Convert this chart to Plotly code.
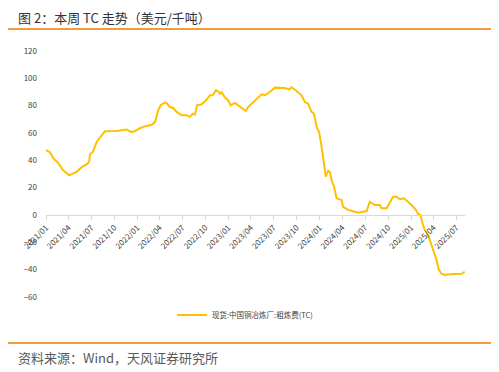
import plotly.graph_objects as go

dates = [
    "2021-01-01", "2021-01-17", "2021-01-30", "2021-02-19", "2021-03-09", "2021-04-04",
    "2021-04-20", "2021-05-04", "2021-05-24", "2021-06-13", "2021-06-23", "2021-06-26",
    "2021-07-07", "2021-07-23", "2021-08-05", "2021-08-25", "2021-10-11", "2021-11-20",
    "2021-12-06", "2021-12-23", "2022-01-12", "2022-01-25", "2022-02-28", "2022-03-13",
    "2022-03-26", "2022-04-05", "2022-04-22", "2022-05-01", "2022-05-12", "2022-05-25",
    "2022-06-08", "2022-06-28", "2022-07-18", "2022-07-31", "2022-08-11", "2022-08-20",
    "2022-08-29", "2022-09-16", "2022-10-06", "2022-10-19", "2022-10-30", "2022-11-12",
    "2022-11-21", "2022-11-28", "2022-12-05", "2022-12-18", "2022-12-31", "2023-01-10",
    "2023-01-27", "2023-02-16", "2023-03-01", "2023-03-12", "2023-03-21", "2023-04-04",
    "2023-04-24", "2023-05-14", "2023-05-27", "2023-06-16", "2023-07-06", "2023-07-26",
    "2023-08-15", "2023-09-01", "2023-09-11", "2023-10-01", "2023-10-21", "2023-11-03",
    "2023-11-16", "2023-11-30", "2023-12-09", "2023-12-22", "2023-12-30", "2024-01-09",
    "2024-01-18", "2024-01-26", "2024-02-04", "2024-02-11", "2024-02-20", "2024-02-28",
    "2024-03-09", "2024-03-19", "2024-03-29", "2024-04-04", "2024-04-24", "2024-05-21",
    "2024-06-03", "2024-07-07", "2024-07-20", "2024-08-09", "2024-08-29", "2024-09-05",
    "2024-09-25", "2024-10-05", "2024-10-21", "2024-11-04", "2024-11-17", "2024-12-03",
    "2024-12-20", "2025-01-09", "2025-01-23", "2025-01-29", "2025-02-08", "2025-02-16",
    "2025-02-25", "2025-03-10", "2025-03-24", "2025-04-02", "2025-04-13", "2025-04-22",
    "2025-05-03", "2025-05-16", "2025-06-05", "2025-07-02", "2025-07-22", "2025-08-04",
]
tc_values = [
    47.5, 46, 41.6, 38, 33, 29,
    30.4, 31.6, 35, 37, 39, 44.5,
    46, 53.5, 56.7, 61.3, 61.5, 62.6,
    60.8, 61.3, 63.5, 64.5, 66, 68,
    76.7, 80.3, 82.3, 81.5, 79, 78.3,
    75.4, 73, 73, 71.8, 74, 73.5,
    80.3, 81, 84.5, 87.6, 87.6, 91.2,
    90.5, 88.8, 90, 86, 84, 80.3,
    82, 79, 77, 76, 79, 81.5,
    85, 88.3, 87.6, 90, 93.2, 93.2,
    93, 91.8, 93.5, 90.7, 87.6, 82.7,
    81.5, 75.4, 74.2, 63.3, 60.8, 49.9,
    37.7, 28, 32.3, 31.6, 24.3, 20.7,
    12.2, 11.7, 11, 6, 3.7, 2.4,
    1.7, 2.9, 9.7, 7.3, 7.3, 4.9,
    4.9, 8, 13.4, 13.4, 11.5, 12.2,
    9.7, 6, 3.1, 0.7, 0, -6,
    -11, -14.6, -23, -26.8, -32.8, -40,
    -43, -43.8, -43.3, -43.3, -43, -41.6,
]
series_name = "现货:中国铜冶炼厂:粗炼费(TC)"
title_text = "图 2：本周 TC 走势（美元/千吨）"
source_text = "资料来源：Wind，天风证券研究所"

FONT = "Microsoft YaHei, Noto Sans CJK SC, sans-serif"

# page has an 8px body margin; figure coordinates = screen px - 8
OFF = 8
W, H = 499 - OFF, 372 - OFF
L, R, T, B = 46 - OFF, 465 - OFF, 51 - OFF, 297 - OFF

def fx(px):
    return (px - OFF - L) / (R - L)

def fy(py):
    return (B - (py - OFF)) / (B - T)

fig = go.Figure()
fig.add_trace(go.Scatter(
    x=dates, y=tc_values, mode="lines", name=series_name,
    line=dict(color="#FFC000", width=2),
    showlegend=True,
))

fig.update_layout(
    width=W, height=H,
    margin=dict(l=L, r=W - R, t=T, b=H - B),
    paper_bgcolor="white", plot_bgcolor="white",
    font=dict(family=FONT, size=8, color="#404040"),
    showlegend=True,
    legend=dict(orientation="h", x=fx(245), xanchor="center", y=fy(315), yanchor="middle",
                font=dict(size=7.5, color="#404040"), itemwidth=30,
                bgcolor="rgba(0,0,0,0)"),
    xaxis=dict(
        type="date", range=["2021-01-01", "2025-08-05"],
        anchor="free", position=60 / 180,
        tick0="2021-01-01", dtick="M3", tickformat="%Y/%m",
        tickangle=-45, showgrid=False, zeroline=False,
        showline=True, linecolor="#D9D9D9", linewidth=1,
        ticks="outside", ticklen=4, tickcolor="#D9D9D9",
        tickfont=dict(size=8, color="#404040"),
    ),
    yaxis=dict(
        range=[-60, 120], dtick=20, tick0=0, domain=[0, 1],
        showgrid=False, zeroline=False, showline=False, ticks="",
        tickfont=dict(size=8, color="#404040"),
        ticklabelstandoff=8,
    ),
    shapes=[
        dict(type="line", xref="paper", yref="paper", x0=fx(6), x1=fx(494), y0=fy(29), y1=fy(29),
             line=dict(color="#F39A3C", width=2)),
        dict(type="line", xref="paper", yref="paper", x0=fx(6), x1=fx(494), y0=fy(343), y1=fy(343),
             line=dict(color="#F39A3C", width=2)),
    ],
    annotations=[
        dict(text=title_text, xref="paper", yref="paper", x=fx(17), y=fy(17),
             xanchor="left", yanchor="middle", showarrow=False, borderpad=0,
             font=dict(size=13, color="#333333", family=FONT)),
        dict(text=source_text, xref="paper", yref="paper", x=fx(17), y=fy(357),
             xanchor="left", yanchor="middle", showarrow=False, borderpad=0,
             font=dict(size=13, color="#595959", family=FONT)),
    ],
)

fig.write_html("out.html")
